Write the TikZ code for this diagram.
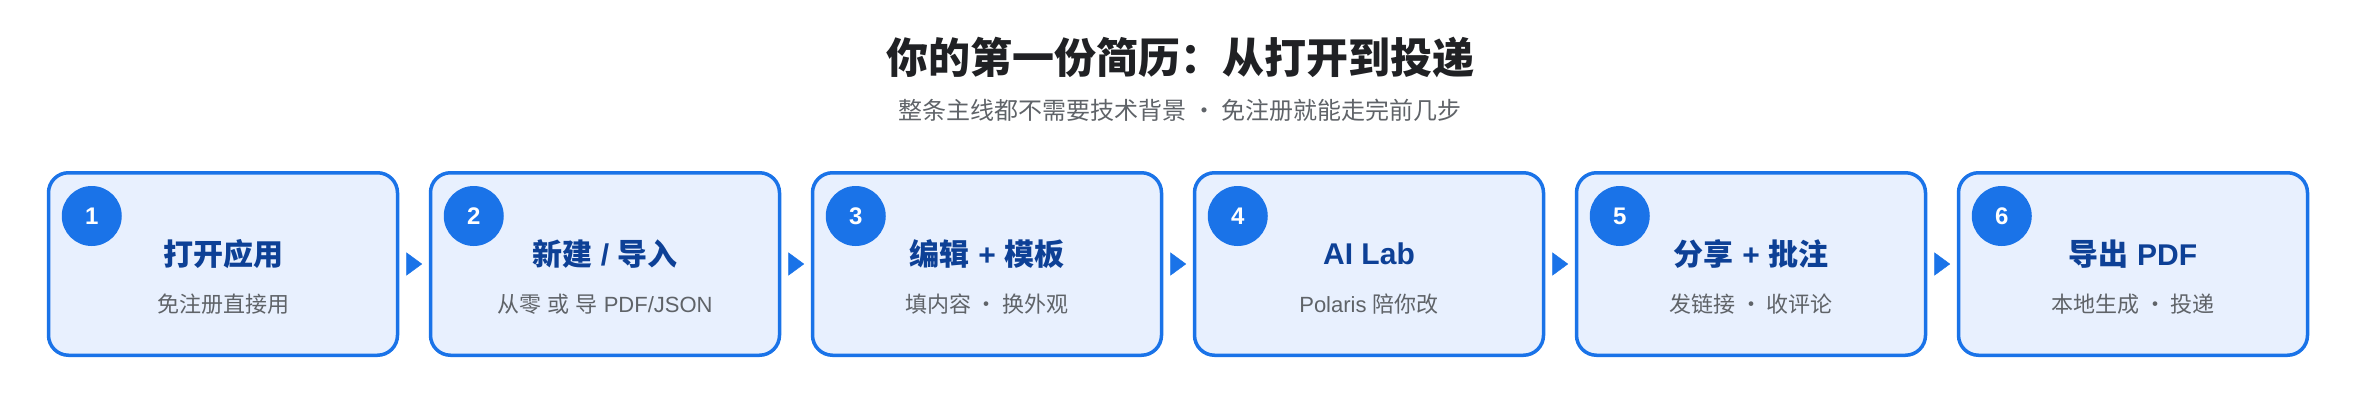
\documentclass[tikz,border=0pt]{standalone}
\usepackage{fontspec}
\setmainfont{Noto Sans CJK SC}
\newfontfamily\latinfont{Liberation Sans}
\usepackage{tikz}
\usetikzlibrary{arrows.meta, positioning}
\definecolor{flowblue}{RGB}{26, 115, 232}
\definecolor{cardfill}{RGB}{232, 240, 254}
\definecolor{headblue}{RGB}{13, 64, 150}
\definecolor{notegray}{RGB}{95, 99, 104}
\definecolor{titledark}{RGB}{32, 33, 36}

\begin{document}
\begin{tikzpicture}[
    x=1pt, y=1pt,
    node distance=29.5pt,
    card/.style={rectangle, draw=flowblue, line width=3.5pt, rounded corners=20pt,
                 minimum width=349pt, minimum height=182.5pt,
                 fill=cardfill},
    badge/.style={circle, fill=flowblue, minimum size=60pt, inner sep=0pt,
                  text=white, font=\fontsize{24}{24}\selectfont\latinfont\bfseries},
    cardhead/.style={text=headblue, font=\fontsize{30}{30}\selectfont\bfseries},
    cardnote/.style={text=notegray, font=\fontsize{22}{22}\selectfont},
    arrow/.style={-{Triangle[length=15.7pt, width=23pt]}, draw=flowblue,
                  line width=0.4pt, shorten <=8pt, shorten >=6.6pt}
]
    \useasboundingbox (0,0) rectangle (2360,400);

    % Heading
    \node[text=titledark, font=\fontsize{42}{42}\selectfont\bfseries] (title)
        at (1180,342.5) {你的第一份简历：从打开到投递};
    \node[text=notegray, font=\fontsize{24}{24}\selectfont] (subtitle)
        at (1180,289.5) {整条主线都不需要技术背景 · 免注册就能走完前几步};

    % Step cards
    \node[card] (open) at (223,136) {};
    \node[card, right=of open] (create) {};
    \node[card, right=of create] (edit) {};
    \node[card, right=of edit] (lab) {};
    \node[card, right=of lab] (share) {};
    \node[card, right=of share] (export) {};

    % Card contents
    \node[badge] (open-num) at ([shift={(45,-45)}]open.north west) {1};
    \node[cardhead] (open-head) at ([yshift=10]open.center) {打开应用};
    \node[cardnote] (open-note) at ([yshift=-40]open.center) {免注册直接用};

    \node[badge] (create-num) at ([shift={(45,-45)}]create.north west) {2};
    \node[cardhead] (create-head) at ([yshift=10]create.center) {新建{\latinfont\ /\ }导入};
    \node[cardnote] (create-note) at ([yshift=-40]create.center) {从零{\latinfont\ }或{\latinfont\ }导{\latinfont\ PDF/JSON}};

    \node[badge] (edit-num) at ([shift={(45,-45)}]edit.north west) {3};
    \node[cardhead] (edit-head) at ([yshift=10]edit.center) {编辑{\latinfont\ +\ }模板};
    \node[cardnote] (edit-note) at ([yshift=-40]edit.center) {填内容 · 换外观};

    \node[badge] (lab-num) at ([shift={(45,-45)}]lab.north west) {4};
    \node[cardhead] (lab-head) at ([yshift=10]lab.center) {\latinfont AI Lab};
    \node[cardnote] (lab-note) at ([yshift=-40]lab.center) {{\latinfont Polaris\ }陪你改};

    \node[badge] (share-num) at ([shift={(45,-45)}]share.north west) {5};
    \node[cardhead] (share-head) at ([yshift=10]share.center) {分享{\latinfont\ +\ }批注};
    \node[cardnote] (share-note) at ([yshift=-40]share.center) {发链接 · 收评论};

    \node[badge] (export-num) at ([shift={(45,-45)}]export.north west) {6};
    \node[cardhead] (export-head) at ([yshift=10]export.center) {导出{\latinfont\ PDF}};
    \node[cardnote] (export-note) at ([yshift=-40]export.center) {本地生成 · 投递};

    % Arrows
    \draw[arrow] (open) -- (create);
    \draw[arrow] (create) -- (edit);
    \draw[arrow] (edit) -- (lab);
    \draw[arrow] (lab) -- (share);
    \draw[arrow] (share) -- (export);

\end{tikzpicture}
\end{document}
